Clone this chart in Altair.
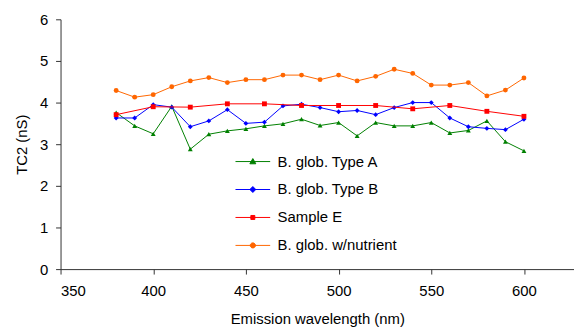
import altair as alt
import pandas as pd

# ---- data ----
wl_fine = list(range(380, 601, 10))     # 23 wavelengths
wl_coarse = list(range(380, 601, 20))   # 12 wavelengths (Sample E)

type_a = [3.76, 3.44, 3.25, 3.91, 2.88, 3.24, 3.32, 3.37, 3.44, 3.49, 3.60, 3.45,
          3.52, 3.20, 3.52, 3.44, 3.44, 3.52, 3.27, 3.33, 3.56, 3.06, 2.84]
type_b = [3.63, 3.63, 3.95, 3.89, 3.42, 3.56, 3.83, 3.50, 3.53, 3.92, 3.96, 3.88,
          3.78, 3.81, 3.71, 3.88, 4.00, 4.00, 3.63, 3.42, 3.38, 3.35, 3.60]
sample_e = [3.71, 3.90, 3.89, 3.97, 3.97, 3.93, 3.93, 3.93, 3.85, 3.93, 3.79, 3.67]
nutrient = [4.29, 4.13, 4.19, 4.38, 4.52, 4.60, 4.48, 4.55, 4.55, 4.66, 4.66, 4.55,
            4.66, 4.52, 4.63, 4.80, 4.70, 4.42, 4.42, 4.48, 4.16, 4.30, 4.59]

series_names = ["B. glob. Type A", "B. glob. Type B", "Sample E", "B. glob. w/nutrient"]
series_colors = ["#008000", "#0000FF", "#FF0000", "#FF6600"]
series_shapes = ["triangle-up", "diamond", "square", "circle"]
# legend symbols: a line segment with the series marker in the middle
legend_shapes = [
    "M-3.5,0L3.5,0M0,-0.6L0.6,0.45L-0.6,0.45Z",
    "M-3.5,0L3.5,0M0,-0.6L0.6,0L0,0.6L-0.6,0Z",
    "M-3.5,0L3.5,0M-0.4,-0.4L0.4,-0.4L0.4,0.4L-0.4,0.4Z",
    "M-3.5,0L3.5,0M-0.2,-0.5L0.2,-0.5L0.5,-0.2L0.5,0.2L0.2,0.5L-0.2,0.5L-0.5,0.2L-0.5,-0.2Z",
]

x_ticks = [350, 400, 450, 500, 550, 600]
y_ticks = [0, 1, 2, 3, 4, 5, 6]

rows = []
for name, xs, ys in [(series_names[0], wl_fine, type_a),
                     (series_names[1], wl_fine, type_b),
                     (series_names[2], wl_coarse, sample_e),
                     (series_names[3], wl_fine, nutrient)]:
    for x, y in zip(xs, ys):
        rows.append({"wl": x, "tc2": y, "series": name})
df = pd.DataFrame(rows)

FONT = "Liberation Sans"

x_enc = alt.X("wl:Q",
              scale=alt.Scale(domain=[350, 627], nice=False, zero=False),
              axis=alt.Axis(values=x_ticks, title="Emission wavelength (nm)",
                            labelPadding=10, titlePadding=13))
y_enc = alt.Y("tc2:Q",
              scale=alt.Scale(domain=[0, 6], nice=False),
              axis=alt.Axis(values=y_ticks, title="TC2 (nS)",
                            labelPadding=8, titlePadding=10))

series_layers = []
for name, col, shp in zip(series_names, series_colors, series_shapes):
    base = alt.Chart(df).transform_filter(alt.datum.series == name)
    series_layers.append(
        base.mark_line(strokeWidth=1, color=col).encode(x=x_enc, y=y_enc))
    series_layers.append(
        base.mark_point(filled=True, size=24, opacity=1, strokeWidth=0,
                        shape=shp, color=col).encode(x=x_enc, y=y_enc))

legend_def = alt.Legend(
    title=None, orient="none", legendX=186.5, legendY=136, padding=0,
    symbolSize=100, symbolStrokeWidth=1, labelOffset=17.5, rowPadding=12.2,
    labelFont=FONT, labelFontSize=15, labelColor="#000000")

# legend-only layer (no rows pass the filter; the legend comes from the scale domains)
legend_layer = alt.Chart(df).transform_filter("datum.wl < 0").mark_point(
    filled=True, opacity=1, strokeWidth=1).encode(
    fill=alt.Fill("series:N", sort=series_names,
                  scale=alt.Scale(domain=series_names, range=series_colors),
                  legend=legend_def),
    stroke=alt.Stroke("series:N", sort=series_names,
                      scale=alt.Scale(domain=series_names, range=series_colors),
                      legend=legend_def),
    shape=alt.Shape("series:N", sort=series_names,
                    scale=alt.Scale(domain=series_names, range=legend_shapes),
                    legend=legend_def))

chart = alt.layer(*series_layers, legend_layer).properties(
    width=518, height=252,
    autosize=alt.AutoSizeParams(type="none"),
    padding={"left": 53, "top": 10, "right": 0, "bottom": 57},
).configure_view(stroke=None).configure_axis(
    grid=False, domainColor="#333333", tickColor="#333333", tickSize=5,
    labelFont=FONT, labelFontSize=15, labelColor="#000000",
    titleFont=FONT, titleFontSize=15, titleFontWeight="normal", titleColor="#000000",
)

chart.save("out.html", embed_options={"renderer": "svg", "actions": False})
